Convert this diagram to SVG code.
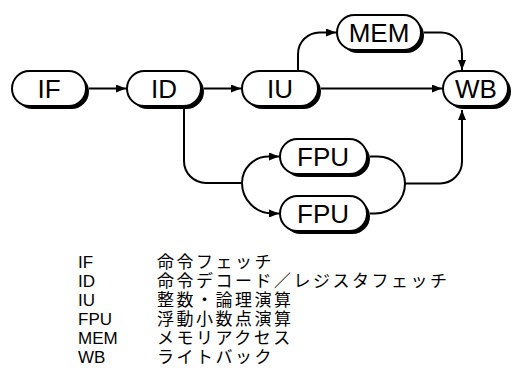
<svg xmlns="http://www.w3.org/2000/svg" width="515" height="383" viewBox="0 0 515 383">
<defs>
<style>
.sh{fill:#000}
.bx{fill:#fff;stroke:#000;stroke-width:2}
.lb{font-family:"Liberation Sans",Arial,sans-serif;font-size:26px;fill:#000;text-anchor:middle}
.cn{fill:none;stroke:#000;stroke-width:2}
.lg{font-family:"Liberation Sans",Arial,sans-serif;font-size:17px;fill:#000}
.jp{font-family:"Noto Sans CJK JP","Liberation Sans",sans-serif;font-size:17px;fill:#000;letter-spacing:2.5px}
</style>
<marker id="ar" viewBox="0 0 10 8" refX="10" refY="4" markerWidth="10" markerHeight="8" markerUnits="userSpaceOnUse" orient="auto">
<path d="M0,0 L10,4 L0,8 Z" fill="#000"/>
</marker>
</defs>
<rect width="515" height="383" fill="#fff"/>
<g id="connectors">
<path class="cn" d="M89,88.5 H126" marker-end="url(#ar)"/>
<path class="cn" d="M204,88.5 H241" marker-end="url(#ar)"/>
<path class="cn" d="M321,88.5 H442" marker-end="url(#ar)"/>
<path class="cn" d="M298,71 V54 A21.5,21.5 0 0 1 319.5,32.5 H336" marker-end="url(#ar)"/>
<path class="cn" d="M424,32.5 H441 A21,21 0 0 1 462,53.5 V70" marker-end="url(#ar)"/>
<path class="cn" d="M184,107 V161 A22,22 0 0 0 206,183 H242"/>
<path class="cn" d="M242,183 A26.5,26.5 0 0 1 268.5,156.5 H279" marker-end="url(#ar)"/>
<path class="cn" d="M242,183 A30.5,30.5 0 0 0 272.5,213.5 H279" marker-end="url(#ar)"/>
<path class="cn" d="M370,156.5 H378 A27,27 0 0 1 405,183.5 A30,30 0 0 1 375,213.5 H370"/>
<path class="cn" d="M405,183.5 H440 A22,22 0 0 0 462,161.5 V110" marker-end="url(#ar)"/>
</g>
<g id="IF">
<rect class="sh" x="15" y="74" width="74" height="35" rx="17.5"/>
<rect class="bx" x="12" y="71" width="74" height="35" rx="17.5"/>
<text class="lb" x="49" y="98">IF</text>
</g>
<g id="ID">
<rect class="sh" x="130" y="74" width="74" height="35" rx="17.5"/>
<rect class="bx" x="127" y="71" width="74" height="35" rx="17.5"/>
<text class="lb" x="164" y="98">ID</text>
</g>
<g id="IU">
<rect class="sh" x="245" y="74" width="76" height="35" rx="17.5"/>
<rect class="bx" x="242" y="71" width="76" height="35" rx="17.5"/>
<text class="lb" x="280" y="98">IU</text>
</g>
<g id="MEM">
<rect class="sh" x="340" y="18" width="84" height="35" rx="17.5"/>
<rect class="bx" x="337" y="15" width="84" height="35" rx="17.5"/>
<text class="lb" x="379" y="42">MEM</text>
</g>
<g id="WB">
<rect class="sh" x="446" y="74" width="65" height="35" rx="17.5"/>
<rect class="bx" x="443" y="71" width="65" height="35" rx="17.5"/>
<text class="lb" x="476" y="98">WB</text>
</g>
<g id="FPU1">
<rect class="sh" x="283" y="142" width="87" height="35" rx="17.5"/>
<rect class="bx" x="280" y="139" width="87" height="35" rx="17.5"/>
<text class="lb" x="323" y="166">FPU</text>
</g>
<g id="FPU2">
<rect class="sh" x="283" y="199" width="87" height="35" rx="17.5"/>
<rect class="bx" x="280" y="196" width="87" height="35" rx="17.5"/>
<text class="lb" x="323" y="223">FPU</text>
</g>
<g id="legend">
<text class="lg" x="78" y="268">IF</text>
<text class="lg" x="78" y="287">ID</text>
<text class="lg" x="78" y="306">IU</text>
<text class="lg" x="78" y="325">FPU</text>
<text class="lg" x="78" y="344">MEM</text>
<text class="lg" x="78" y="363">WB</text>
<text class="jp" x="157" y="268">命令フェッチ</text>
<text class="jp" x="157" y="287">命令デコード／レジスタフェッチ</text>
<text class="jp" x="157" y="306">整数・論理演算</text>
<text class="jp" x="157" y="325">浮動小数点演算</text>
<text class="jp" x="157" y="344">メモリアクセス</text>
<text class="jp" x="157" y="363">ライトバック</text>
</g>
</svg>
